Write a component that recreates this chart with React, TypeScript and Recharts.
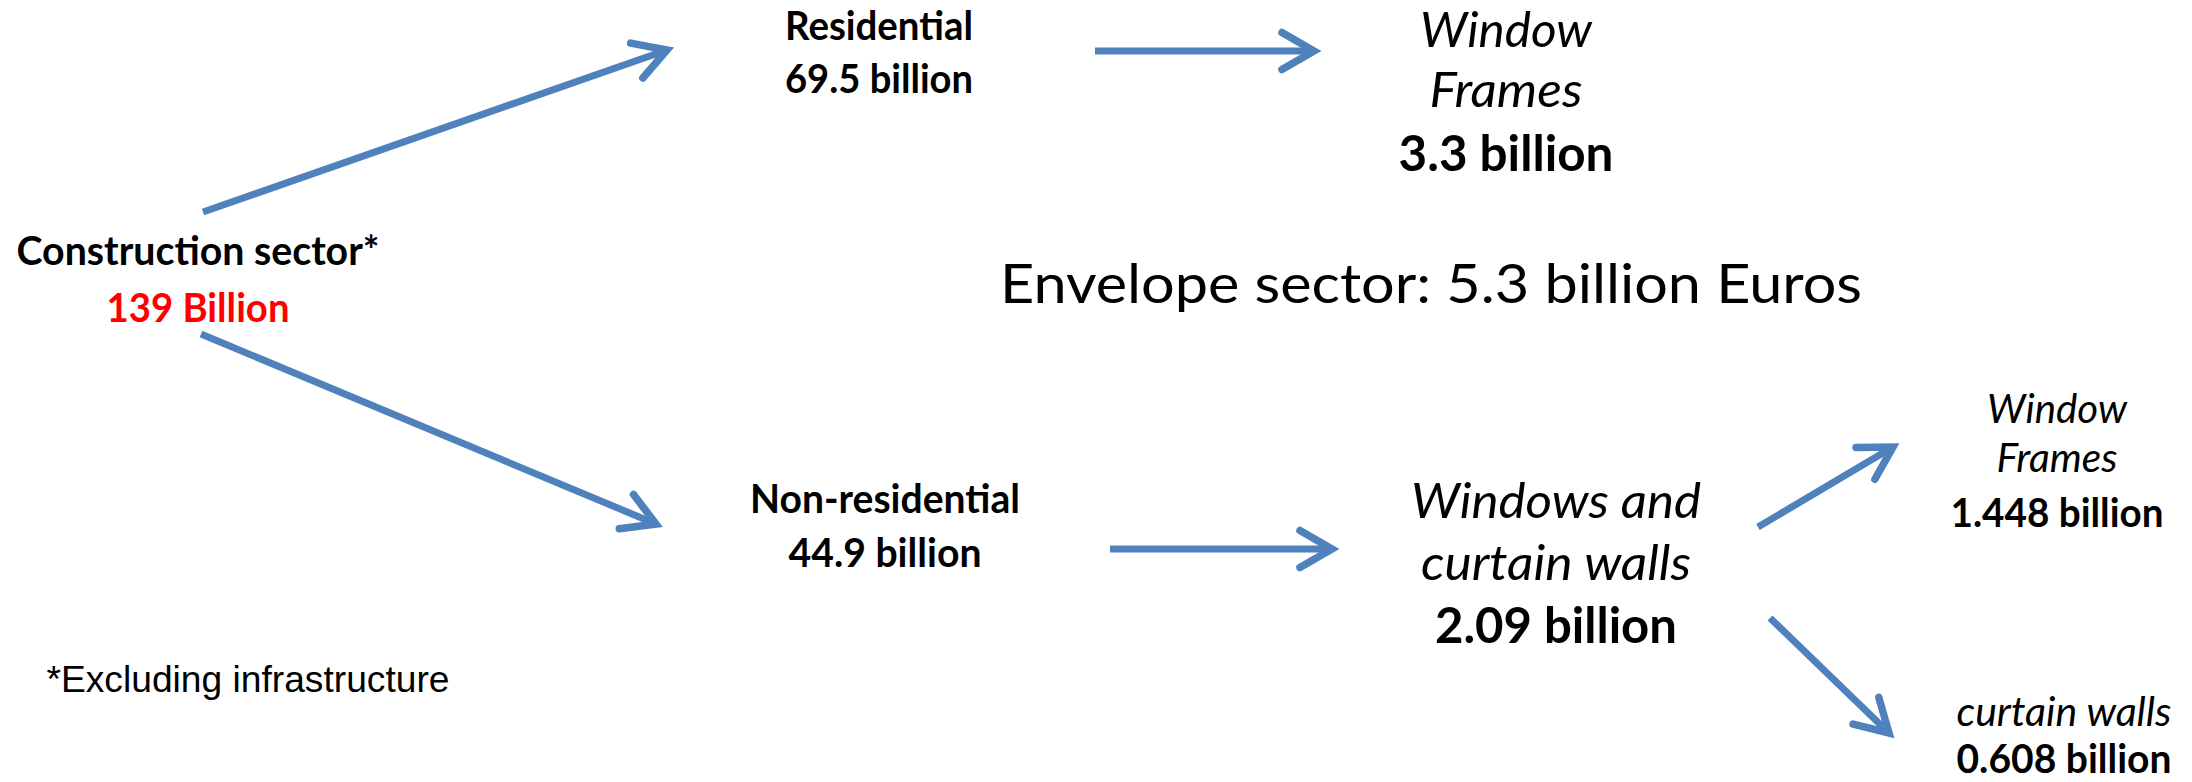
import React from 'react';
import { ComposedChart, XAxis, YAxis, Line, Scatter } from 'recharts';

const CHART_W = 2192;
const CHART_H = 782;

// ---------- data ----------
const nodeTitles: string[][] = [
  ['Construction sector*'],
  ['Residential'],
  ['Window', 'Frames'],
  ['Non-residential'],
  ['Windows and', 'curtain walls'],
  ['Window', 'Frames'],
  ['curtain walls'],
];
const nodeValues: string[] = [
  '139 Billion',
  '69.5 billion',
  '3.3 billion',
  '44.9 billion',
  '2.09 billion',
  '1.448 billion',
  '0.608 billion',
];
const flowFrom: number[] = [0, 0, 1, 3, 4, 4];
const flowTo: number[] = [1, 3, 2, 4, 5, 6];
const summaryText = 'Envelope sector: 5.3 billion Euros';
const footnoteText = '*Excluding infrastructure';

// ---------- layout (diagram coordinates) & style ----------
const ARROW_COLOR = '#4F81BD';
const FONT = 'Lato, "Open Sans", sans-serif';

const nodeLayout = [
  { x: 198, baselines: [265, 322], size: 40, italic: false, widths: [363, 183], valueColor: '#FF0000' },
  { x: 879, baselines: [40, 93], size: 40, italic: false, widths: [188, 188], valueColor: '#000000' },
  { x: 1506, baselines: [47, 107, 171], size: 49, italic: true, widths: [172, 153, 215], valueColor: '#000000' },
  { x: 885, baselines: [513, 567], size: 40, italic: false, widths: [270, 193], valueColor: '#000000' },
  { x: 1556, baselines: [518, 580, 643], size: 49, italic: true, widths: [290, 270, 242], valueColor: '#000000' },
  { x: 2057, baselines: [423, 472, 527], size: 40, italic: true, widths: [140, 121, 213], valueColor: '#000000' },
  { x: 2064, baselines: [726, 773], size: 40, italic: true, widths: [215, 215], valueColor: '#000000' },
];

const flowLayout = [
  { x1: 203, y1: 212, x2: 667, y2: 50 },
  { x1: 201, y1: 334, x2: 656, y2: 524 },
  { x1: 1095, y1: 51, x2: 1314, y2: 51 },
  { x1: 1110, y1: 549, x2: 1332, y2: 549 },
  { x1: 1758, y1: 527, x2: 1893, y2: 447 },
  { x1: 1770, y1: 618, x2: 1889, y2: 733 },
];

const noteLayout = [
  { x: 1431, y: 303, size: 54, width: 862, font: FONT, weight: 400 },
  { x: 248, y: 692, size: 37, width: 403, font: '"Liberation Sans", Arial, sans-serif', weight: 400 },
];

// ---------- tables built from the arrays ----------
const nodeData = nodeTitles.map((lines, i) => ({
  x: nodeLayout[i].x,
  y: nodeLayout[i].baselines[0],
  lines,
  value: nodeValues[i],
  idx: i,
}));

const noteData = [summaryText, footnoteText].map((text, i) => ({
  x: noteLayout[i].x,
  y: noteLayout[i].y,
  text,
  idx: i,
}));

const flowData = flowFrom.map((from, i) => ({
  from,
  to: flowTo[i],
  points: [
    { x: flowLayout[i].x1, y: flowLayout[i].y1, end: false },
    { x: flowLayout[i].x2, y: flowLayout[i].y2, end: true },
  ],
}));

// ---------- renderers ----------
const NodeShape = (props: any) => {
  const { cx, cy, payload } = props;
  if (cx == null || cy == null) return <g />;
  const lay = nodeLayout[payload.idx];
  const all: string[] = [...payload.lines, payload.value];
  return (
    <g>
      {all.map((t, k) => {
        const isValue = k === all.length - 1;
        return (
          <text
            key={k}
            x={cx}
            y={cy + (lay.baselines[k] - lay.baselines[0])}
            textAnchor="middle"
            fontFamily={FONT}
            fontSize={lay.size}
            fontWeight={isValue || !lay.italic ? 700 : 400}
            fontStyle={!isValue && lay.italic ? 'italic' : 'normal'}
            fill={isValue ? lay.valueColor : '#000000'}
            textLength={lay.widths[k]}
            lengthAdjust="spacingAndGlyphs"
          >
            {t}
          </text>
        );
      })}
    </g>
  );
};

const NoteShape = (props: any) => {
  const { cx, cy, payload } = props;
  if (cx == null || cy == null) return <g />;
  const lay = noteLayout[payload.idx];
  return (
    <text
      x={cx}
      y={cy}
      textAnchor="middle"
      fontFamily={lay.font}
      fontSize={lay.size}
      fontWeight={lay.weight}
      fill="#000000"
      textLength={lay.width}
      lengthAdjust="spacingAndGlyphs"
    >
      {payload.text}
    </text>
  );
};

const makeHead = (pts: { x: number; y: number }[]) => (props: any) => {
  const { cx, cy, index } = props;
  if (index !== 1 || cx == null || cy == null) return <g key={`d-${index}`} />;
  const a = Math.atan2(pts[1].y - pts[0].y, pts[1].x - pts[0].x);
  const L = 37;
  const th = (30 * Math.PI) / 180;
  const ax = cx - L * Math.cos(a - th);
  const ay = cy - L * Math.sin(a - th);
  const bx = cx - L * Math.cos(a + th);
  const by = cy - L * Math.sin(a + th);
  return (
    <polyline
      key={`d-${index}`}
      points={`${ax},${ay} ${cx},${cy} ${bx},${by}`}
      fill="none"
      stroke={ARROW_COLOR}
      strokeWidth={7.5}
      strokeLinejoin="miter"
      strokeLinecap="round"
    />
  );
};

export default function App() {
  return (
    <div style={{ position: 'absolute', left: 0, top: 0, width: CHART_W, height: CHART_H, background: '#ffffff' }}>
      <ComposedChart width={CHART_W} height={CHART_H} margin={{ top: 0, right: 0, bottom: 0, left: 0 }}>
        <XAxis type="number" dataKey="x" domain={[0, CHART_W]} allowDataOverflow hide />
        <YAxis type="number" dataKey="y" domain={[0, CHART_H]} allowDataOverflow reversed hide />
        {flowData.map((f, i) => (
          <Line
            key={`flow-${i}`}
            data={f.points}
            dataKey="y"
            type="linear"
            stroke={ARROW_COLOR}
            strokeWidth={7}
            dot={makeHead(f.points)}
            activeDot={false}
            isAnimationActive={false}
            legendType="none"
          />
        ))}
        <Scatter data={nodeData} shape={NodeShape} isAnimationActive={false} />
        <Scatter data={noteData} shape={NoteShape} isAnimationActive={false} />
      </ComposedChart>
    </div>
  );
}
